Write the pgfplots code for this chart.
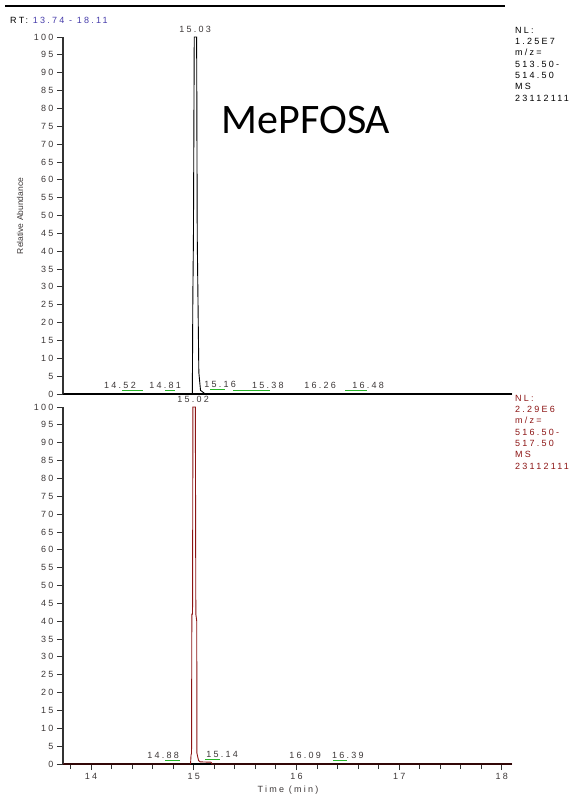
\documentclass[border=0pt]{standalone}
\usepackage{pgfplots}
\pgfplotsset{compat=1.18}
\usepackage{fontspec}
\setmainfont{Liberation Sans}
\newfontfamily\spfont[LetterSpace=25]{Liberation Sans}
\newfontfamily\calfont{Carlito}
\newcommand\sm{\spfont\fontsize{9}{11.3}\selectfont}
\definecolor{txt}{RGB}{60,55,55}
\definecolor{rtblue}{RGB}{70,60,170}
\definecolor{dred}{RGB}{140,20,20}
\definecolor{igreen}{RGB}{40,180,40}
\begin{document}
\begin{tikzpicture}
\path[use as bounding box] (0pt,0pt) rectangle (578pt,797pt);
\pgfplotsset{chrom/.style={scale only axis, width=449pt, height=357pt,
  xmin=13.727, xmax=18.099, ymin=0, ymax=100,
  axis lines=left, axis line style={-, line width=1.2pt, black!80},
  ytick={0,5,...,100}, tick align=outside, major tick length=6pt,
  tick style={black!80, line width=0.8pt},
  /pgf/number format/assume math mode=true,
  ticklabel style={font=\sm, text=txt}, clip=false},
  integ/.style={igreen, line width=1pt}}
% top panel
\begin{axis}[chrom, at={(63pt,403pt)}, anchor=south west, xtick=\empty,
  x axis line style={line width=2pt, black}]
\addplot[black, line width=0.9pt] coordinates {
(13.727,0)(14.9864,0)(14.9912,27)(14.9971,44)(15.0049,100)(15.0282,100)
(15.0341,44)(15.0497,6)(15.0662,1)(15.0906,0.5)(15.1100,0)(18.099,0)};
\addplot[integ] coordinates {(14.302,1.0)(14.506,1.0)};
\addplot[integ] coordinates {(14.721,1.0)(14.818,1.0)};
\addplot[integ] coordinates {(15.159,1.3)(15.305,1.3)};
\addplot[integ] coordinates {(15.383,1.0)(15.743,1.0)};
\addplot[integ] coordinates {(16.474,1.0)(16.688,1.0)};
\node[font=\sm, text=txt] at (axis cs:15.0127,102) {15.03};
\node[font=\sm, text=txt] at (axis cs:14.282,2.5) {14.52};
\node[font=\sm, text=txt] at (axis cs:14.721,2.5) {14.81};
\node[font=\sm, text=txt] at (axis cs:15.256,2.7) {15.16};
\node[font=\sm, text=txt] at (axis cs:15.723,2.5) {15.38};
\node[font=\sm, text=txt] at (axis cs:16.230,2.5) {16.26};
\node[font=\sm, text=txt] at (axis cs:16.697,2.5) {16.48};
\end{axis}
% bottom panel
\begin{axis}[chrom, at={(63pt,33pt)}, anchor=south west,
  xtick={14,15,16,17,18},
  minor xtick={13.8,14.2,14.4,14.6,14.8,15.2,15.4,15.6,15.8,16.2,16.4,16.6,16.8,17.2,17.4,17.6,17.8},
  minor tick length=5pt, x axis line style={line width=1.5pt, black}]
\addplot[dred, line width=0.9pt] coordinates {
(13.727,0)(14.9688,0)(14.9737,2.5)(14.9786,3)(14.9815,42)(14.9883,42)
(14.9922,100)(15.0156,100)(15.0204,42)(15.0292,40)(15.0312,3)(15.0467,1)
(15.0613,0.6)(15.1685,0.5)(15.1782,0)(18.099,0)};
\addplot[integ] coordinates {(14.721,1.0)(14.867,1.0)};
\addplot[integ] coordinates {(15.110,1.3)(15.259,1.3)};
\addplot[integ] coordinates {(16.356,1.0)(16.492,1.0)};
\node[font=\sm, text=txt] at (axis cs:14.993,102) {15.02};
\node[font=\sm, text=txt] at (axis cs:14.701,2.5) {14.88};
\node[font=\sm, text=txt] at (axis cs:15.276,2.7) {15.14};
\node[font=\sm, text=txt] at (axis cs:16.084,2.5) {16.09};
\node[font=\sm, text=txt] at (axis cs:16.502,2.5) {16.39};
\end{axis}
% decorations
\draw[line width=1.5pt, black] (5pt,791pt) -- (505pt,791pt);
\node[anchor=west, font=\sm, inner sep=0pt] at (10pt,777pt) {RT:\ \textcolor{rtblue}{13.74 - 18.11}};
\node[rotate=90, font=\fontsize{8.5}{10}\selectfont, text=txt] at (20pt,581pt) {Relative Abundance};
\node[font=\sm, text=txt] at (288pt,7pt) {Time (min)};
\node[font=\calfont\fontsize{42}{48}\selectfont] at (306pt,677pt) {MePFOSA};
\node[anchor=north west, align=left, font=\sm, inner sep=0pt] at (515pt,770pt)
  {NL:\\1.25E7\\m/z=\\513.50-\\514.50\\MS\\23112111};
\node[anchor=north west, align=left, font=\sm, inner sep=0pt, text=dred] at (515pt,402pt)
  {NL:\\2.29E6\\m/z=\\516.50-\\517.50\\MS\\23112111};
\end{tikzpicture}
\end{document}
